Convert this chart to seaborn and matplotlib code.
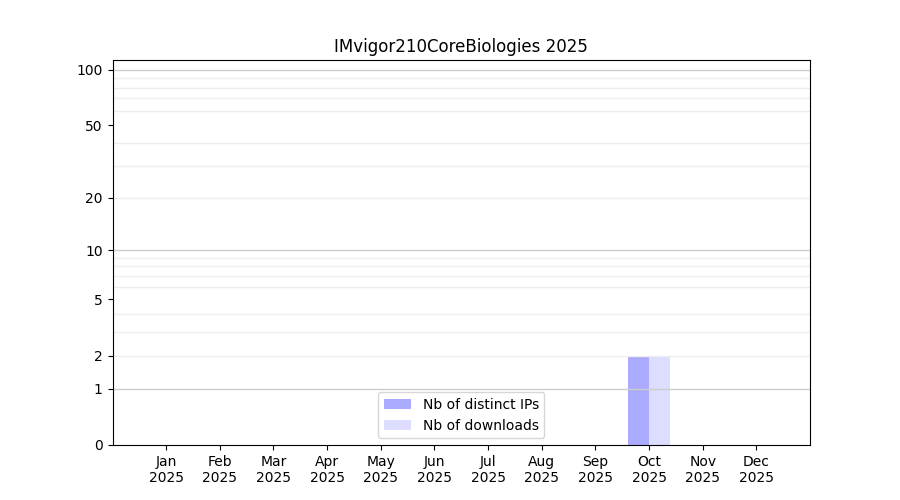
import numpy as np
import pandas as pd
import seaborn as sns
from matplotlib import pyplot as plt
from matplotlib.ticker import FixedLocator, NullLocator

title = "IMvigor210CoreBiologies 2025"
months = ["Jan", "Feb", "Mar", "Apr", "May", "Jun",
          "Jul", "Aug", "Sep", "Oct", "Nov", "Dec"]
month_num = [1, 2, 3, 4, 5, 6, 7, 8, 9, 10, 11, 12]
distinct_ips = [0, 0, 0, 0, 0, 0, 0, 0, 0, 2, 0, 0]
downloads = [0, 0, 0, 0, 0, 0, 0, 0, 0, 2, 0, 0]
series_names = ["Nb of distinct IPs", "Nb of downloads"]
series_colors = ["#aaaaff", "#ddddff"]
y_ticks = [0, 1, 2, 5, 10, 20, 50, 100]
major_grid = [1, 10, 100]
minor_grid = [2, 3, 4, 6, 7, 8, 9, 20, 30, 40, 60, 70, 80, 90]

df = pd.DataFrame({
    "month": month_num * 2,
    "count": distinct_ips + downloads,
    "series": [series_names[0]] * 12 + [series_names[1]] * 12,
})

fig, ax = plt.subplots(figsize=(9, 5), dpi=100)

sns.barplot(
    data=df, x="month", y="count", hue="series",
    hue_order=series_names, palette=series_colors,
    native_scale=True, errorbar=None, saturation=1, width=0.8, ax=ax,
)

# log(y + 1) scale, so zero sits on the baseline
ax.set_yscale("function", functions=(lambda y: np.log10(np.maximum(y, 0) + 1),
                                     lambda y: 10 ** y - 1))
ax.set_ylim(0, 113)
ax.yaxis.set_major_locator(FixedLocator(y_ticks))
ax.yaxis.set_minor_locator(NullLocator())
ax.set_yticklabels([str(t) for t in y_ticks])

# grid above the bars but below the spines
for v in major_grid:
    ax.axhline(v, color="#cccccc", lw=1, zorder=2)
for v in minor_grid:
    ax.axhline(v, color="#eeeeee", lw=1, zorder=2)
for s in ax.spines.values():
    s.set_zorder(4)

ax.set_xlim(0, 13)
ax.set_xticks(month_num)
ax.set_xticklabels([f"{m}\n2025" for m in months])
ax.set_xlabel("")
ax.set_ylabel("")
ax.set_title(title)
ax.legend(loc="lower center", title=None)

fig.savefig("out.png")
